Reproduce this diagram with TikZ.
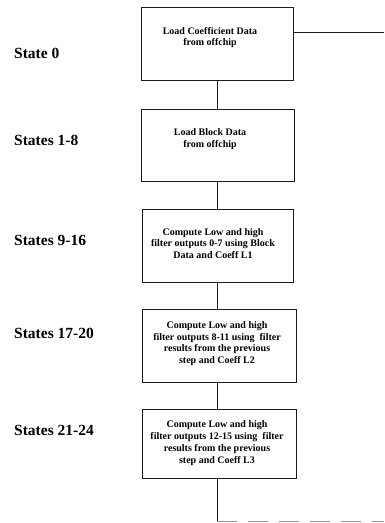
\documentclass[tikz,border=0pt]{standalone}
\usepackage{fontspec}
\setmainfont{Liberation Serif}
\usepackage{tikz}
\usetikzlibrary{positioning,calc}
\definecolor{inkline}{HTML}{1A1A1A}
\definecolor{scanline}{HTML}{9A9A9A}

\begin{document}
\begin{tikzpicture}[
  x=1pt,y=-1pt,
  every node/.style={align=center,inner sep=2pt},
  stagebox/.style={draw=inkline,line width=0.8pt,minimum height=73pt},
  stagetext/.style={font=\fontsize{10}{11.8}\selectfont\bfseries,inner sep=0pt},
  statelabel/.style={font=\fontsize{15.5}{17}\selectfont\bfseries,anchor=west,inner sep=0pt},
  link/.style={draw=inkline,line width=0.8pt},
  offpage/.style={draw=scanline,line width=0.8pt,dash pattern=on 20pt off 11pt}
]
  \useasboundingbox (0,0) rectangle (384,523);
  % state column
  \node[statelabel] (l0) at (14,53)  {State 0};
  \node[statelabel] (l1) at (14,140) {States 1-8};
  \node[statelabel] (l2) at (14,240) {States 9-16};
  \node[statelabel] (l3) at (14,333) {States 17-20};
  \node[statelabel] (l4) at (14,430) {States 21-24};
  % stage boxes
  \node[stagebox,minimum width=152pt] (b1) at (217,43.5) {};
  \node[stagebox,minimum width=153pt,minimum height=72pt] (b2) at (217.5,145) {};
  \node[stagebox,minimum width=151pt] (b3) at (217.5,245.5) {};
  \node[stagebox,minimum width=154pt] (b4) at (219,345.5) {};
  \node[stagebox,minimum width=154pt,minimum height=69pt] (b5) at (219,443.5) {};
  % box texts, set high in the box
  \node[stagetext] (t1) at (210,37.5) {Load Coefficient Data\\from offchip};
  \node[stagetext] (t2) at (210,139) {Load Block Data\\from offchip};
  \node[stagetext] (t3) at (213,243.5) {Compute Low and high\\filter outputs 0-7 using Block\\Data and Coeff L1};
  \node[stagetext] (t4) at (217,343.5) {Compute Low and high\\filter outputs 8-11 using\ \ filter\\results from the previous\\step and Coeff L2};
  \node[stagetext] (t5) at (217,443) {Compute Low and high\\filter outputs 12-15 using\ \ filter\\results from the previous\\step and Coeff L3};
  % free ends leaving the page
  \coordinate (outtop) at (384,32);
  \coordinate (turn) at (217,521);
  \coordinate (outbot) at (384,521);
  \draw[link] (b1.south -| 217,0) -- (217,0 |- b2.north);
  \draw[link] (b2.south -| 217,0) -- (217,0 |- b3.north);
  \draw[link] (b3.south -| 217,0) -- (217,0 |- b4.north);
  \draw[link] (b4.south -| 217,0) -- (217,0 |- b5.north);
  \draw[link] (b1.east |- outtop) -- (outtop);
  \draw[link] (b5.south -| turn) -- (turn);
  \draw[offpage] (turn) -- (outbot);
\end{tikzpicture}
\end{document}
